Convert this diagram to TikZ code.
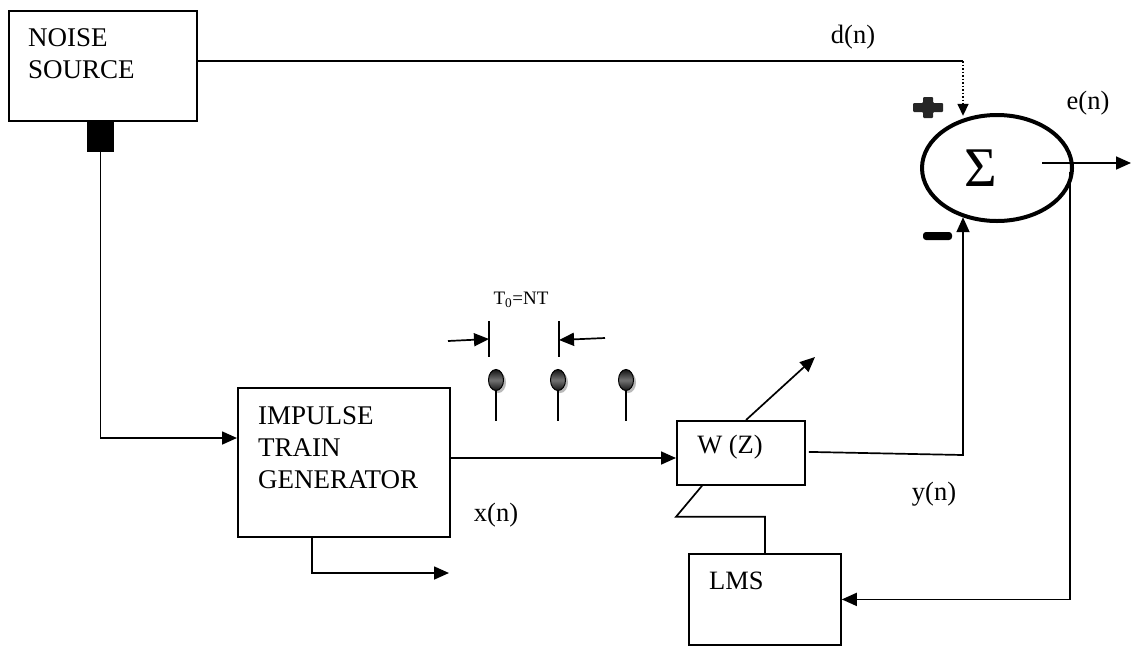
\documentclass[tikz,border=0pt]{standalone}
\usepackage{fontspec}
\setmainfont{Liberation Serif}
\usetikzlibrary{arrows.meta,calc,shapes.geometric,shadows}
\begin{document}
\begin{tikzpicture}[x=1pt,y=-1pt,
  box/.style={draw, line width=1.8pt, inner sep=0pt, rectangle},
  wire/.style={line width=1.7pt},
  arr/.style={wire, -{Triangle[length=15pt,width=13pt]}},
  txt/.style={inner sep=0pt, font=\fontsize{27}{32}\selectfont, align=left},
  lbl/.style={inner sep=0pt, font=\fontsize{26.5}{32}\selectfont},
  pulse/.style={ellipse, minimum width=15pt, minimum height=21pt, inner sep=0pt,
    draw=black, line width=1pt, top color=black!92, bottom color=black!92, middle color=black!55,
    drop shadow={shadow xshift=2.5pt, shadow yshift=-2.5pt, fill=black!45, opacity=0.6}},
]
\useasboundingbox (0,0) rectangle (1131,646);
% blocks
\node[box, minimum width=188, minimum height=110, anchor=north west] (noise) at (8,10) {};
\node[box, fill=black, minimum width=25, minimum height=29, anchor=north west] (plug) at (87,121) {};
\node[box, minimum width=212, minimum height=149, anchor=north west] (imp) at (237,387) {};
\node[box, minimum width=128, minimum height=64, anchor=north west] (wz) at (676,420) {};
\node[box, minimum width=152, minimum height=91, anchor=north west] (lms) at (688,553) {};
\node[ellipse, draw, line width=4pt, minimum width=150, minimum height=106, inner sep=0pt] (sum) at (997,168) {};
% texts
\node[txt, anchor=north west] (noiset) at (28,28) {NOISE\\SOURCE};
\node[txt, anchor=north west] (impt) at (258,406) {IMPULSE\\TRAIN\\GENERATOR};
\node[lbl] (wzt) at (730,447) {W (Z)};
\node[lbl, anchor=west] (lmst) at (709,581) {LMS};
\node[inner sep=0pt, font=\fontsize{56}{60}\selectfont] (sig) at (981,168) {Σ};
\node[lbl] (dn) at (853,37) {d(n)};
\node[lbl] (en) at (1088,103) {e(n)};
\node[lbl] (xn) at (496,515) {x(n)};
\node[lbl] (yn) at (934,494) {y(n)};
\node[inner sep=0pt, font=\fontsize{19}{22}\selectfont] (tnt) at (521,300) {T\textsubscript{0}=NT};
% signs
\fill[black!85, rounded corners=1pt] (913,103) -- (923,103) -- (923,97) -- (933,97) -- (933,103) -- (943,103)
  -- (943,112) -- (933,112) -- (933,118) -- (923,118) -- (923,112) -- (913,112) -- cycle;
\fill[black, rounded corners=3pt] (923,232) rectangle (952,240);
% connectors
\coordinate (dc) at (963,61);
\draw[wire] (noise.north east) ++(0,51) -- (dc);
\draw[line width=1.6pt, dash pattern=on 1.5pt off 2pt, -{Triangle[length=12pt,width=11pt]}] (dc) -- ($(dc |- sum.125)+(0,-3)$);
\coordinate (eo1) at (1042,163);
\coordinate (eo2) at (1131,163);
\draw[arr] (eo1) -- (eo2);
\coordinate (fb) at (1070,172);
\draw[arr] (fb) |- (lms.east);
\draw[arr] (plug.south) |- ($(imp.north west)+(0,51)$);
\coordinate (wzin) at ($(wz.north west)+(0,38)$);
\draw[arr] (wzin -| imp.east) -- (wzin);
\coordinate (bout) at (449,573);
\draw[arr] ($(imp.south west)+(75,0)$) |- (bout);
\draw[arr] ($(wz.north west)+(70,0)$) -- ++(69,-63);
\coordinate (mn) at (963,455);
\draw[arr] ($(wz.east)+(3,-1)$) -- (mn) -- (mn |- sum.235);
\draw[wire] ($(wz.south west)+(26,0)$) -- ++(-26,31) -| (lms.north);
% impulse train
\foreach \n/\x in {1/496, 2/558, 3/626} {
  \node[pulse] (b\n) at (\x,380) {};
  \draw[wire] (b\n.south) -- ++(0,30);
}
\coordinate (m1) at (489,321);
\coordinate (m2) at (559,321);
\draw[wire] (m1) -- ++(0,36);
\draw[wire] (m2) -- ++(0,36);
\coordinate (a1) at (448,341);
\coordinate (a2) at (605,338);
\draw[arr] (a1) -- ($(m1)+(0,18)$);
\draw[arr] (a2) -- ($(m2)+(0,19)$);
\end{tikzpicture}
\end{document}
